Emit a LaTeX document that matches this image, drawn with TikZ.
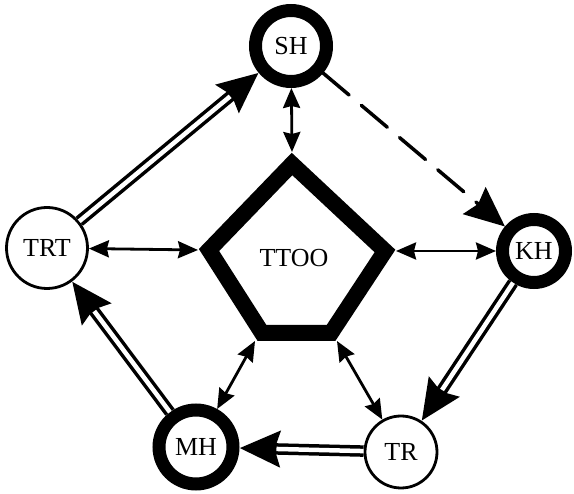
\documentclass[tikz,border=0pt]{standalone}
\usepackage{fontspec}
\setmainfont{Liberation Serif}
\usetikzlibrary{arrows.meta}
\begin{document}
\begin{tikzpicture}[x=1pt,y=-1pt,
  lbl/.style={font=\fontsize{26}{26}\selectfont},
  thickring/.style={circle, draw, line width=13pt, inner sep=0pt, lbl},
  thinring/.style={circle, draw, line width=2.8pt, inner sep=0pt, lbl},
  bigtip/.style={-{Stealth[length=40pt,width=35pt,inset=5pt]}},
  dbl/.style={line width=11.5pt, bigtip, postaction={draw=white, -, line width=4.5pt, shorten >=37pt}},
  dsh/.style={line width=3.5pt, line cap=round, dash pattern=on 34pt off 16pt, bigtip},
  biarrow/.style={line width=2.8pt, {Stealth[length=20pt,width=17pt,inset=2pt]}-{Stealth[length=20pt,width=17pt,inset=2pt]}},
  pent/.style={line width=16pt, line join=miter}]
\useasboundingbox (0,0) rectangle (574,494);
\fill[white] (0,0) rectangle (574,494);
% nodes
\node[thickring, minimum size=71pt] (SH) at (291,46) {SH};
\node[thickring, minimum size=63pt] (KH) at (534,251) {KH};
\node[thickring, minimum size=74pt] (MH) at (196,447) {MH};
\node[thinring, minimum size=72pt] (TR) at (401,452) {TR};
\node[thinring, minimum size=81pt] (TRT) at (47,248) {TRT};
% pentagon
\draw[pent] (292,164) -- (385,251) -- (331,333) -- (262,333) -- (209,250) -- cycle;
\node[lbl] (TTOO) at (294,258) {TTOO};
\coordinate (pt) at (292,152);
\coordinate (pr) at (396,251);
\coordinate (pbr) at (337,341);
\coordinate (pbl) at (255,341);
\coordinate (pl) at (198,250);
% connectors
\draw[dbl] (TRT) -- (SH);
\draw[dbl] (MH) -- (TRT);
\draw[dbl] (KH) -- (TR);
\draw[dbl] (TR) -- (MH);
\draw[dsh] (SH) -- (KH);
\draw[biarrow] (SH) -- (pt);
\draw[biarrow] (TRT) -- (pl);
\draw[biarrow] (pr) -- (KH);
\draw[biarrow] (pbl) -- (MH);
\draw[biarrow] (pbr) -- (TR);
\end{tikzpicture}
\end{document}
